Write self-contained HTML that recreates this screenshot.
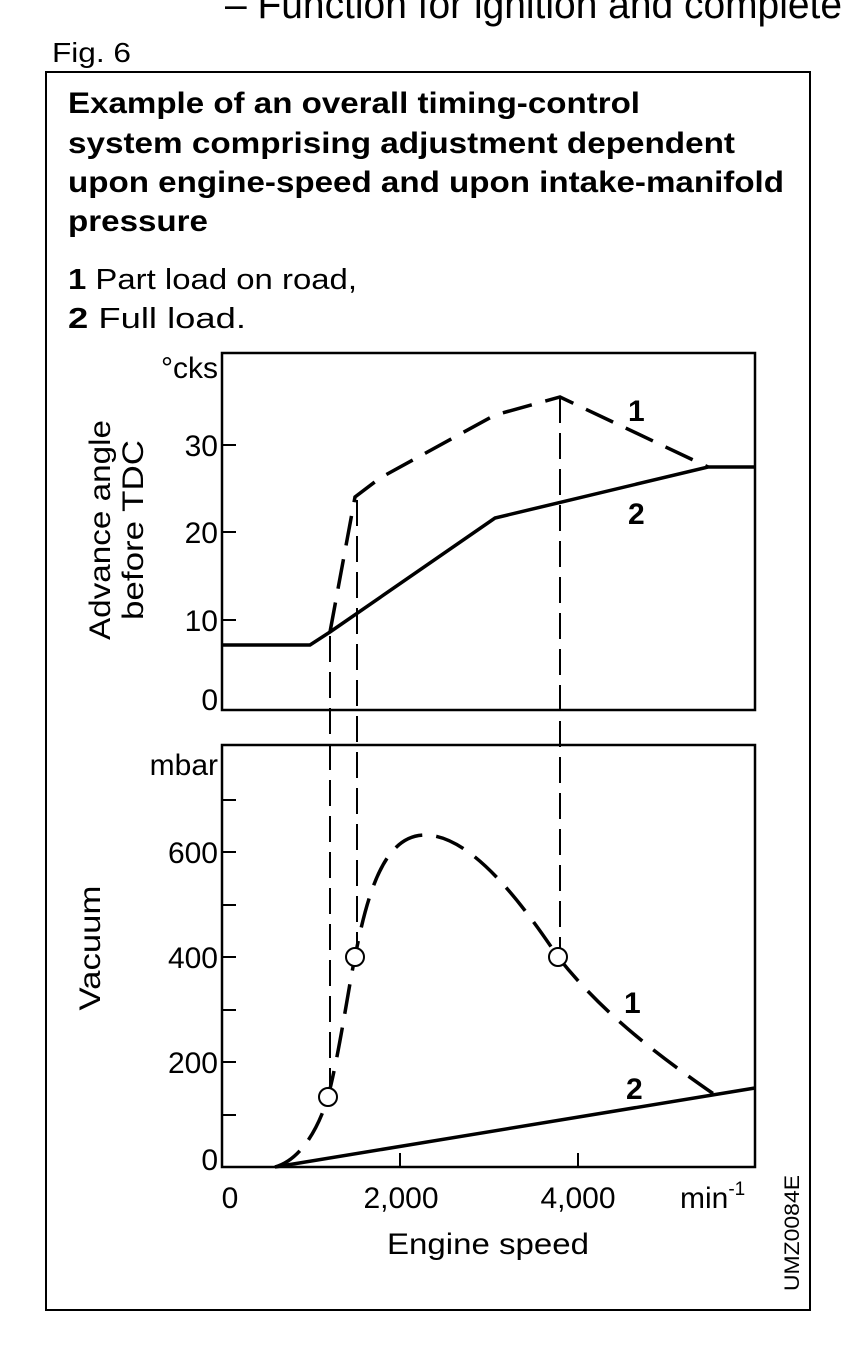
<!DOCTYPE html>
<html><head><meta charset="utf-8"><style>
html,body{margin:0;padding:0;background:#fff;}
body{width:842px;height:1361px;overflow:hidden;position:relative;font-family:"Liberation Sans",sans-serif;color:#000;}
</style></head><body>
<svg width="842" height="1361" viewBox="0 0 842 1361" xmlns="http://www.w3.org/2000/svg" style="position:absolute;left:0;top:0;font-family:'Liberation Sans',sans-serif">
<text x="225" y="18" font-size="40" textLength="617" lengthAdjust="spacingAndGlyphs">– Function for ignition and complete</text>
<text x="52" y="62" font-size="28" textLength="79" lengthAdjust="spacingAndGlyphs">Fig. 6</text>
<rect x="46" y="72" width="764" height="1238" fill="none" stroke="#000" stroke-width="2"/>
<g font-size="30" font-weight="bold">
<text x="68" y="113" textLength="572" lengthAdjust="spacingAndGlyphs">Example of an overall timing-control</text>
<text x="68" y="153" textLength="667" lengthAdjust="spacingAndGlyphs">system comprising adjustment dependent</text>
<text x="68" y="192" textLength="716" lengthAdjust="spacingAndGlyphs">upon engine-speed and upon intake-manifold</text>
<text x="68" y="231" textLength="140" lengthAdjust="spacingAndGlyphs">pressure</text>
</g>
<text x="68" y="289" font-size="29" textLength="289" lengthAdjust="spacingAndGlyphs"><tspan font-weight="bold">1</tspan> Part load on road,</text>
<text x="68" y="328" font-size="29" textLength="178" lengthAdjust="spacingAndGlyphs"><tspan font-weight="bold">2</tspan> Full load.</text>
<!-- top plot -->
<rect x="222" y="353" width="533" height="357" fill="none" stroke="#000" stroke-width="2.5"/>
<g stroke="#000" stroke-width="2"><line x1="222" y1="445" x2="236" y2="445"/><line x1="222" y1="532" x2="236" y2="532"/><line x1="222" y1="620" x2="236" y2="620"/></g>
<g font-size="30" text-anchor="end"><text x="218" y="378">°cks</text><text x="218" y="456">30</text><text x="218" y="543">20</text><text x="218" y="631">10</text><text x="218" y="710">0</text></g>
<text transform="translate(110,530) rotate(-90)" font-size="30" text-anchor="middle" textLength="220" lengthAdjust="spacingAndGlyphs">Advance angle</text>
<text transform="translate(143,530) rotate(-90)" font-size="30" text-anchor="middle" textLength="180" lengthAdjust="spacingAndGlyphs">before TDC</text>
<polyline points="222,645 310,645 330,632 495,518 708,467 755,467" fill="none" stroke="#000" stroke-width="3.5"/>
<polyline points="330,632 355,497 380,478 495,415 560,397 708,467" fill="none" stroke="#000" stroke-width="3.5" stroke-dasharray="30,14"/>
<text x="628" y="421" font-size="30" font-weight="bold">1</text>
<text x="628" y="524" font-size="30" font-weight="bold">2</text>
<!-- vertical dashed -->
<g stroke="#000" stroke-width="2" stroke-dasharray="26,10" fill="none">
<line x1="330" y1="636" x2="330" y2="1088"/><line x1="357" y1="500" x2="357" y2="948"/><line x1="560" y1="397" x2="560" y2="948"/>
</g>
<!-- bottom plot -->
<rect x="222" y="745" width="533" height="422" fill="none" stroke="#000" stroke-width="2.5"/>
<g stroke="#000" stroke-width="2">
<line x1="222" y1="800" x2="236" y2="800"/><line x1="222" y1="852" x2="236" y2="852"/><line x1="222" y1="905" x2="236" y2="905"/><line x1="222" y1="957" x2="236" y2="957"/><line x1="222" y1="1010" x2="236" y2="1010"/><line x1="222" y1="1062" x2="236" y2="1062"/><line x1="222" y1="1115" x2="236" y2="1115"/>
<line x1="400" y1="1167" x2="400" y2="1153"/><line x1="578" y1="1167" x2="578" y2="1153"/>
</g>
<g font-size="30" text-anchor="end"><text x="218" y="775">mbar</text><text x="218" y="863">600</text><text x="218" y="968">400</text><text x="218" y="1073">200</text><text x="218" y="1170">0</text></g>
<text transform="translate(100,948) rotate(-90)" font-size="30" text-anchor="middle" textLength="125" lengthAdjust="spacingAndGlyphs">Vacuum</text>
<path d="M275,1167 C300,1160 318,1130 328,1097 C340,1050 348,990 355,957 C368,890 385,835 425,835 C470,835 520,900 558,957 C600,1010 650,1050 718,1097" fill="none" stroke="#000" stroke-width="3.5" stroke-dasharray="30,14"/>
<line x1="275" y1="1167" x2="755" y2="1088" stroke="#000" stroke-width="3.5"/>
<g fill="#fff" stroke="#000" stroke-width="2"><circle cx="328" cy="1097" r="9"/><circle cx="355" cy="957" r="9"/><circle cx="558" cy="957" r="9"/></g>
<text x="624" y="1013" font-size="30" font-weight="bold">1</text>
<text x="626" y="1099" font-size="30" font-weight="bold">2</text>
<g font-size="30" text-anchor="middle"><text x="230" y="1208">0</text><text x="401" y="1208">2,000</text><text x="578" y="1208">4,000</text></g>
<text x="680" y="1208" font-size="30">min<tspan font-size="19" dy="-13">-1</tspan></text>
<text x="488" y="1254" font-size="30" text-anchor="middle" textLength="202" lengthAdjust="spacingAndGlyphs">Engine speed</text>
<text transform="translate(799,1233) rotate(-90)" font-size="21" text-anchor="middle" textLength="116" lengthAdjust="spacingAndGlyphs">UMZ0084E</text>
</svg>
</body></html>
